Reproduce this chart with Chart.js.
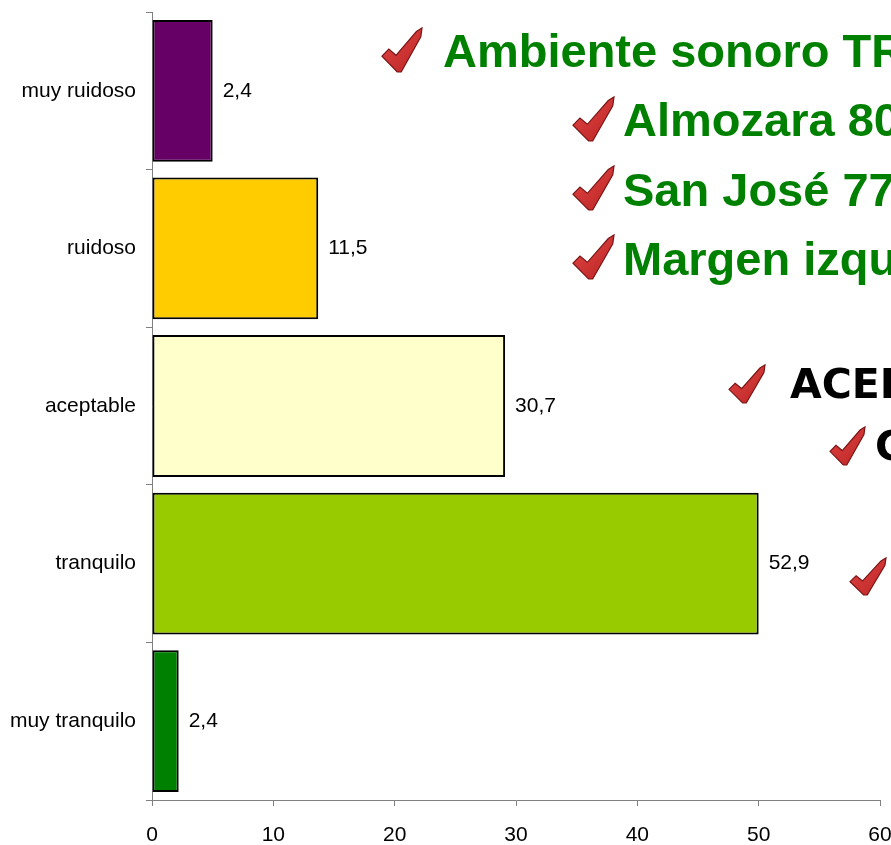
<!DOCTYPE html>
<html>
<head>
<meta charset="utf-8">
<script src="https://cdn.jsdelivr.net/npm/chart.js@4"></script>
<style>
  html, body { margin: 0; padding: 0; background: #fff; }
  #wrap { width: 891px; height: 845px; position: relative; }
</style>
</head>
<body>
<div id="wrap"><canvas id="myChart"></canvas></div>
<script>
// Kategorien, Balkenlaengen und die angezeigten Werte
const categories = ['muy ruidoso', 'ruidoso', 'aceptable', 'tranquilo', 'muy tranquilo'];
const barValues = [5.0, 13.7, 29.1, 50.0, 2.2];
const labelValues = [2.4, 11.5, 30.7, 52.9, 2.4];
const barColors = ['#660066', '#FFCC00', '#FFFFCC', '#99CC00', '#008000'];
const xTicks = [0, 10, 20, 30, 40, 50, 60];

// Texte, die rechts ueber dem Diagramm liegen
const overlayLines = [
    { text: 'Ambiente sonoro TRANQUILO', x: 443, y: 67, check: [382, 28, 40, 44], color: '#008000', font: 'bold 47px "Liberation Sans", Arial' },
    { text: 'Almozara 80%', x: 623, y: 136, check: [573, 97, 41, 44], color: '#008000', font: 'bold 47px "Liberation Sans", Arial' },
    { text: 'San José 77%', x: 623, y: 206, check: [573, 166, 41, 44], color: '#008000', font: 'bold 47px "Liberation Sans", Arial' },
    { text: 'Margen izquierda', x: 623, y: 275, check: [573, 235, 41, 44], color: '#008000', font: 'bold 47px "Liberation Sans", Arial' },
    { text: 'ACEPTABLE', x: 790, y: 398, check: [729, 365, 36, 38], color: '#000000', font: 'bold 41px "DejaVu Sans", Arial' },
    { text: 'C', x: 875, y: 460, check: [830, 427, 35, 38], color: '#000000', font: 'bold 41px "DejaVu Sans", Arial' },
    { text: '', x: 895, y: 590, check: [850, 558, 36, 37], color: '#000000', font: 'bold 41px "DejaVu Sans", Arial' }
];

function drawCheck(ctx, x, y, w, h) {
    const p = [
        [0.00, 0.64], [0.17, 0.48], [0.35, 0.62], [0.86, 0.08],
        [1.00, 0.00], [0.97, 0.20], [0.48, 1.00], [0.38, 1.00]
    ];
    ctx.save();
    const grad = ctx.createLinearGradient(x, y, x + w, y + h);
    grad.addColorStop(0, '#e24646');
    grad.addColorStop(1, '#bb2424');
    ctx.beginPath();
    p.forEach((pt, i) => {
        const px = x + pt[0] * w;
        const py = y + pt[1] * h;
        if (i === 0) ctx.moveTo(px, py); else ctx.lineTo(px, py);
    });
    ctx.closePath();
    ctx.fillStyle = grad;
    ctx.fill();
    ctx.strokeStyle = '#7a1515';
    ctx.lineWidth = 1.2;
    ctx.stroke();
    ctx.restore();
}

const valueLabels = {
    id: 'valueLabels',
    afterDatasetsDraw(chart) {
        const ctx = chart.ctx;
        const meta = chart.getDatasetMeta(0);
        ctx.save();
        ctx.font = '21px "Liberation Sans", Arial';
        ctx.fillStyle = '#000';
        ctx.textAlign = 'left';
        ctx.textBaseline = 'middle';
        meta.data.forEach((bar, i) => {
            const txt = labelValues[i].toFixed(1).replace('.', ',');
            ctx.fillText(txt, bar.x + 10, bar.y);
        });
        ctx.restore();
    }
};

const overlay = {
    id: 'overlay',
    afterDraw(chart) {
        const ctx = chart.ctx;
        ctx.save();
        overlayLines.forEach(line => {
            drawCheck(ctx, line.check[0], line.check[1], line.check[2], line.check[3]);
            if (line.text) {
                ctx.font = line.font;
                ctx.fillStyle = line.color;
                ctx.textAlign = 'left';
                ctx.textBaseline = 'alphabetic';
                ctx.fillText(line.text, line.x, line.y);
            }
        });
        ctx.restore();
    }
};

const ctx = document.getElementById('myChart').getContext('2d');
new Chart(ctx, {
    type: 'bar',
    data: {
        labels: categories,
        datasets: [{
            data: barValues,
            backgroundColor: barColors,
            borderColor: '#000',
            borderWidth: 2,
            borderSkipped: false,
            categoryPercentage: 1.0,
            barPercentage: 0.9
        }]
    },
    options: {
        indexAxis: 'y',
        responsive: true,
        maintainAspectRatio: false,
        animation: false,
        layout: { padding: { top: 12, left: 0, right: 11, bottom: 0 } },
        plugins: {
            legend: { display: false },
            tooltip: { enabled: false }
        },
        scales: {
            x: {
                min: 0,
                max: 60,
                afterBuildTicks: (scale) => { scale.ticks = xTicks.map(v => ({ value: v })); },
                afterFit: (scale) => { scale.height = 45; scale.paddingRight = 0; scale.paddingLeft = 0; },
                grid: { drawOnChartArea: false, drawTicks: true, tickLength: 6, color: '#808080' },
                border: { display: true, color: '#808080', width: 1 },
                ticks: {
                    font: { family: '"Liberation Sans", Arial', size: 21 },
                    color: '#000',
                    padding: 17,
                    maxRotation: 0,
                    autoSkip: false
                }
            },
            y: {
                afterFit: (scale) => { scale.width = 152; scale.paddingTop = 0; scale.paddingBottom = 0; },
                grid: { drawOnChartArea: false, drawTicks: true, tickLength: 6, color: '#808080', offset: true },
                border: { display: true, color: '#808080', width: 1 },
                ticks: {
                    font: { family: '"Liberation Sans", Arial', size: 21 },
                    color: '#000',
                    padding: 10
                }
            }
        }
    },
    plugins: [valueLabels, overlay]
});
</script>
</body>
</html>
